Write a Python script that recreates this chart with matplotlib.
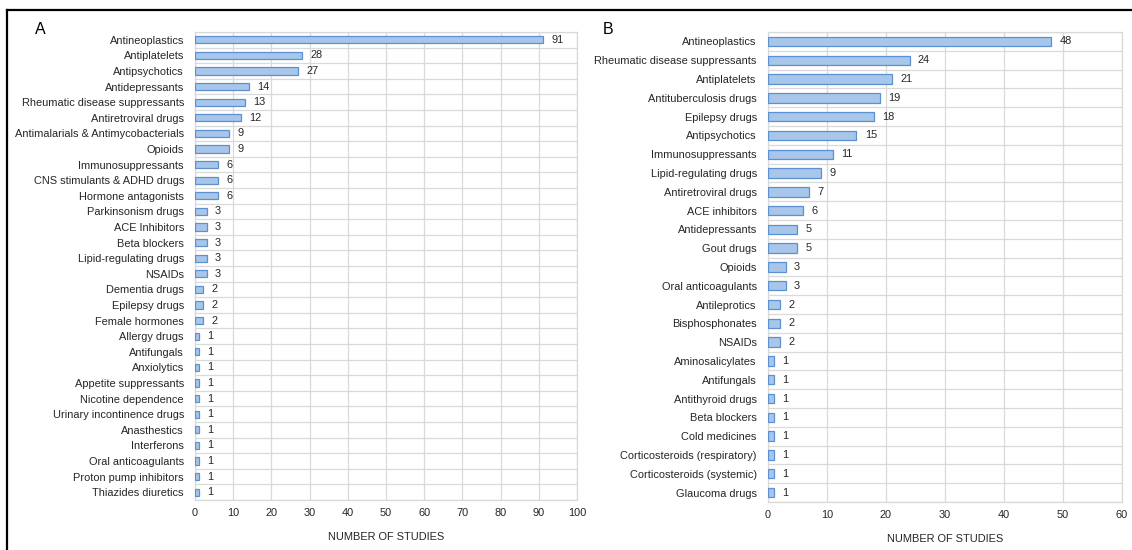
import matplotlib.pyplot as plt
from matplotlib.lines import Line2D

plt.rcParams["font.family"] = ["Liberation Sans", "DejaVu Sans"]

# Panel A
classes_a = [
    "Antineoplastics", "Antiplatelets", "Antipsychotics", "Antidepressants",
    "Rheumatic disease suppressants", "Antiretroviral drugs",
    "Antimalarials & Antimycobacterials", "Opioids", "Immunosuppressants",
    "CNS stimulants & ADHD drugs", "Hormone antagonists", "Parkinsonism drugs",
    "ACE Inhibitors", "Beta blockers", "Lipid-regulating drugs", "NSAIDs",
    "Dementia drugs", "Epilepsy drugs", "Female hormones", "Allergy drugs",
    "Antifungals", "Anxiolytics", "Appetite suppressants", "Nicotine dependence",
    "Urinary incontinence drugs", "Anasthestics", "Interferons",
    "Oral anticoagulants", "Proton pump inhibitors", "Thiazides diuretics",
]
studies_a = [91, 28, 27, 14, 13, 12, 9, 9, 6, 6, 6, 3, 3, 3, 3, 3,
             2, 2, 2, 1, 1, 1, 1, 1, 1, 1, 1, 1, 1, 1]
xticks_a = [0, 10, 20, 30, 40, 50, 60, 70, 80, 90, 100]

# Panel B
classes_b = [
    "Antineoplastics", "Rheumatic disease suppressants", "Antiplatelets",
    "Antituberculosis drugs", "Epilepsy drugs", "Antipsychotics",
    "Immunosuppressants", "Lipid-regulating drugs", "Antiretroviral drugs",
    "ACE inhibitors", "Antidepressants", "Gout drugs", "Opioids",
    "Oral anticoagulants", "Antileprotics", "Bisphosphonates", "NSAIDs",
    "Aminosalicylates", "Antifungals", "Antithyroid drugs", "Beta blockers",
    "Cold medicines", "Corticosteroids (respiratory)",
    "Corticosteroids (systemic)", "Glaucoma drugs",
]
studies_b = [48, 24, 21, 19, 18, 15, 11, 9, 7, 6, 5, 5, 3, 3, 2, 2, 2,
             1, 1, 1, 1, 1, 1, 1, 1]
xticks_b = [0, 10, 20, 30, 40, 50, 60]

BAR_FILL = "#A7C6E9"
BAR_EDGE = "#5B91D3"
GRID = "#D9D9D9"
TEXT = "#262626"
FS = 7.9


def draw_panel(ax, classes, values, xticks, bar_h, label_pad):
    n = len(classes)
    ypos = list(range(n))
    ax.barh(ypos, values, height=bar_h, color=BAR_FILL, edgecolor=BAR_EDGE,
            linewidth=0.9, zorder=3)
    for y, v in zip(ypos, values):
        ax.text(v + label_pad, y, str(v), va="center", ha="left",
                fontsize=FS, color=TEXT, zorder=4)

    ax.set_ylim(n - 0.5, -0.5)
    ax.set_xlim(xticks[0], xticks[-1])
    ax.set_yticks(ypos)
    ax.set_yticklabels(classes, fontsize=FS, color=TEXT)
    ax.set_xticks(xticks)
    ax.set_xticklabels([str(t) for t in xticks], fontsize=FS, color=TEXT)

    # category separators + value gridlines
    ax.set_yticks([i - 0.5 for i in range(n + 1)], minor=True)
    ax.grid(True, which="minor", axis="y", color=GRID, linewidth=0.9, zorder=0)
    ax.grid(True, which="major", axis="x", color=GRID, linewidth=0.9, zorder=0)
    ax.tick_params(axis="both", which="both", length=0)
    ax.tick_params(axis="y", pad=8)
    ax.tick_params(axis="x", pad=6)
    for s in ax.spines.values():
        s.set_color(GRID)
        s.set_linewidth(0.9)

    ax.set_xlabel("NUMBER OF STUDIES", fontsize=FS, color=TEXT, labelpad=10)
    return ax


fig = plt.figure(figsize=(11.32, 5.5), dpi=100)

ax_a = fig.add_axes([0.1723, 0.0909, 0.3375, 0.8509])
draw_panel(ax_a, classes_a, studies_a, xticks_a, 0.45, 2.2)
fig.text(35 / 1132, 1 - 30 / 550, "A", fontsize=11.5, color="black",
         ha="left", va="center")

ax_b = fig.add_axes([0.6784, 0.0873, 0.3127, 0.8545])
draw_panel(ax_b, classes_b, studies_b, xticks_b, 0.5, 1.4)
fig.text(603 / 1132, 1 - 30 / 550, "B", fontsize=11.5, color="black",
         ha="left", va="center")

# black frame along the top and left edges
fig.add_artist(Line2D([7 / 1132, 1], [1 - 10 / 550, 1 - 10 / 550],
                      transform=fig.transFigure, color="black", linewidth=1.6))
fig.add_artist(Line2D([7 / 1132, 7 / 1132], [0, 1 - 10 / 550],
                      transform=fig.transFigure, color="black", linewidth=1.6))

fig.savefig("out.png", dpi=100, facecolor="white")
